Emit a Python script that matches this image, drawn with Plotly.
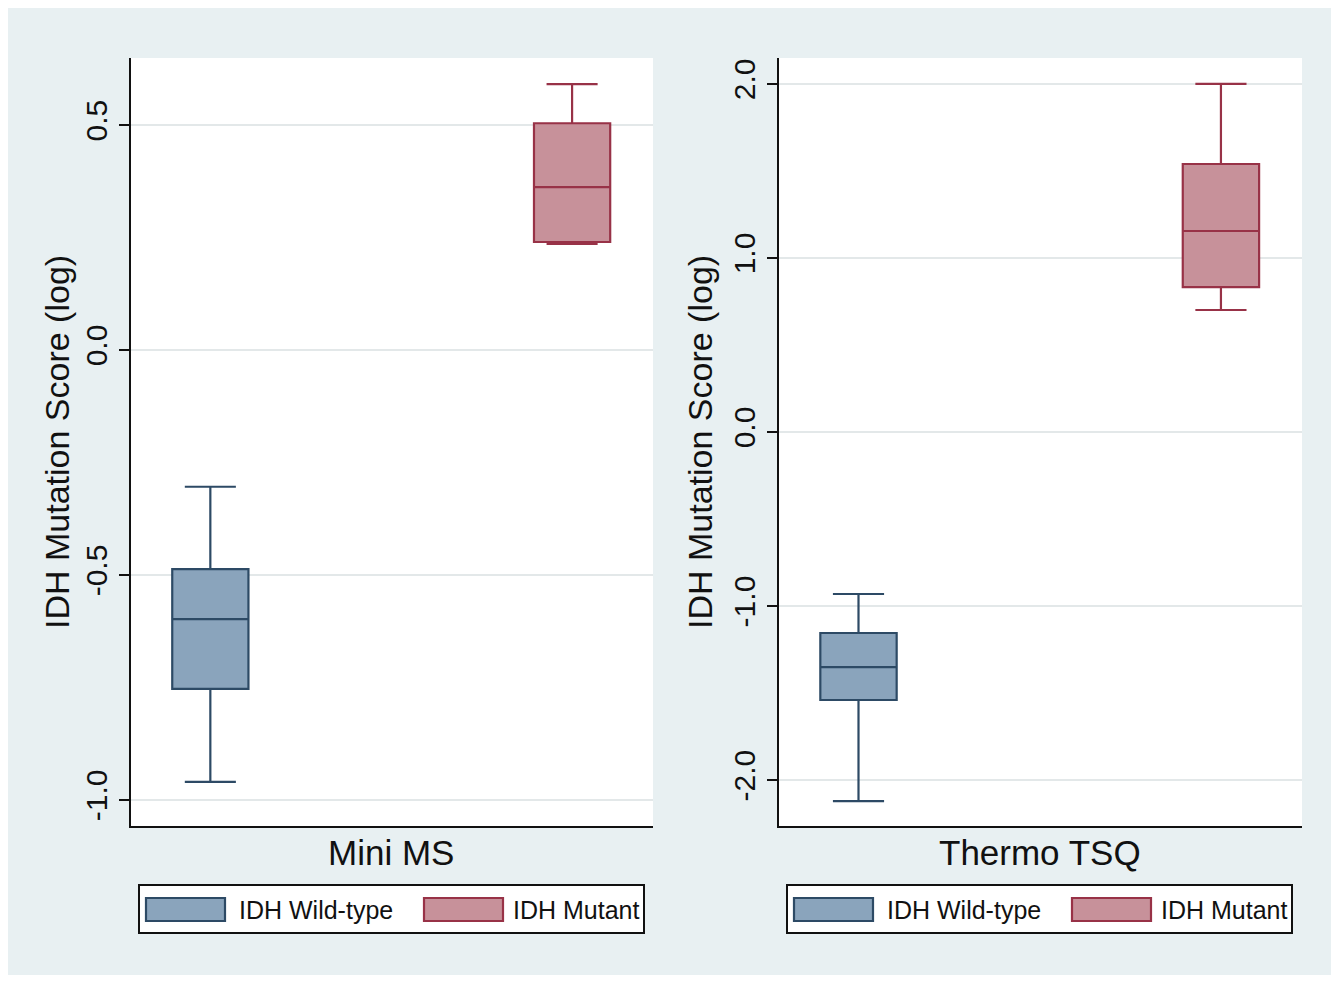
import plotly.graph_objects as go

W, H = 1323, 967   # page body margin of 8px gives the white frame
OFF = 8

# ---- data ----
panels = ["Mini MS", "Thermo TSQ"]
groups = ["IDH Wild-type", "IDH Mutant"]
group_pos = [0.152, 0.845]

# stats per panel: [wild-type, mutant]
minims_lower = [-0.960, 0.236]
minims_q1 = [-0.753, 0.240]
minims_median = [-0.598, 0.362]
minims_q3 = [-0.487, 0.504]
minims_upper = [-0.304, 0.591]

tsq_lower = [-2.121, 0.701]
tsq_q1 = [-1.540, 0.833]
tsq_median = [-1.351, 1.155]
tsq_q3 = [-1.155, 1.540]
tsq_upper = [-0.931, 2.000]

minims_ticks = [-1.0, -0.5, 0.0, 0.5]
minims_ticktext = ["-1.0", "-0.5", "0.0", "0.5"]
tsq_ticks = [-2.0, -1.0, 0.0, 1.0, 2.0]
tsq_ticktext = ["-2.0", "-1.0", "0.0", "1.0", "2.0"]
minims_range = [-1.058, 0.649]
tsq_range = [-2.264, 2.149]

fills = ["#8aa4bc", "#c7919a"]
lines = ["#2d4a65", "#983247"]

FONT = "Liberation Sans, Arial, sans-serif"


def px(x):
    return (x - OFF) / W


def py(y):
    return 1 - (y - OFF) / H


fig = go.Figure()

stats = [
    (minims_lower, minims_q1, minims_median, minims_q3, minims_upper),
    (tsq_lower, tsq_q1, tsq_median, tsq_q3, tsq_upper),
]
axes = [("x", "y"), ("x2", "y2")]

for p, (lo, q1, med, q3, up) in enumerate(stats):
    xa, ya = axes[p]
    for g in range(2):
        fig.add_trace(go.Box(
            x=[group_pos[g]], lowerfence=[lo[g]], q1=[q1[g]], median=[med[g]],
            q3=[q3[g]], upperfence=[up[g]], width=0.146, whiskerwidth=0.67,
            fillcolor=fills[g], line=dict(color=lines[g], width=2.2),
            boxpoints=False, name=groups[g], showlegend=False,
            hoverinfo="skip", xaxis=xa, yaxis=ya,
        ))

left_px = [131, 779]
right_px = [653, 1302]
top_px, bot_px = 58, 826

yaxis_common = dict(
    showline=True, linecolor="#111111", linewidth=1.6, ticks="outside",
    ticklen=10, tickwidth=1.6, tickcolor="#111111", showgrid=True,
    gridcolor="#e3e8e9", gridwidth=1.5, zeroline=False, tickangle=-90,
    tickfont=dict(family=FONT, size=30, color="#111111"),
)
xaxis_common = dict(
    showline=True, linecolor="#111111", linewidth=1.6, showticklabels=False,
    ticks="", showgrid=False, zeroline=False, range=[0, 1],
)

fig.update_layout(
    width=W, height=H, margin=dict(l=0, r=0, t=0, b=0),
    paper_bgcolor="#e8f0f2", plot_bgcolor="white", showlegend=False,
    xaxis=dict(domain=[px(left_px[0]), px(right_px[0])], anchor="y", **xaxis_common),
    yaxis=dict(domain=[py(bot_px), py(top_px)], anchor="x", range=minims_range,
               tickvals=minims_ticks, ticktext=minims_ticktext, **yaxis_common),
    xaxis2=dict(domain=[px(left_px[1]), px(right_px[1])], anchor="y2", **xaxis_common),
    yaxis2=dict(domain=[py(bot_px), py(top_px)], anchor="x2", range=tsq_range,
                tickvals=tsq_ticks, ticktext=tsq_ticktext, **yaxis_common),
)

shapes = []
annotations = []

title_x = [391, 1040]
ytitle_x = [57, 700]
for p in range(2):
    off = left_px[p] - left_px[0]
    # panel label below axis
    annotations.append(dict(x=px(title_x[p]), y=py(852), xref="paper", yref="paper",
                            text=panels[p], showarrow=False, xanchor="center", yanchor="middle",
                            font=dict(family=FONT, size=35, color="#111111")))
    # y title
    annotations.append(dict(x=px(ytitle_x[p]), y=py(442), xref="paper", yref="paper",
                            text="IDH Mutation Score (log)", textangle=-90, showarrow=False,
                            xanchor="center", yanchor="middle",
                            font=dict(family=FONT, size=34, color="#111111")))
    # legend frame
    shapes.append(dict(type="rect", xref="paper", yref="paper",
                       x0=px(139 + off), x1=px(644 + off), y0=py(933), y1=py(885),
                       line=dict(color="#111111", width=2), fillcolor="white", layer="above"))
    sw_x = [(146, 225), (424, 503)]
    txt_x = [237, 511]
    for g in range(2):
        shapes.append(dict(type="rect", xref="paper", yref="paper",
                           x0=px(sw_x[g][0] + off), x1=px(sw_x[g][1] + off),
                           y0=py(921), y1=py(898),
                           line=dict(color=lines[g], width=2.2), fillcolor=fills[g], layer="above"))
        annotations.append(dict(x=px(txt_x[g] + off), y=py(910), xref="paper", yref="paper",
                                text=groups[g], showarrow=False, xanchor="left", yanchor="middle",
                                font=dict(family=FONT, size=25, color="#111111")))

fig.update_layout(shapes=shapes, annotations=annotations)

fig.write_html("out.html")
